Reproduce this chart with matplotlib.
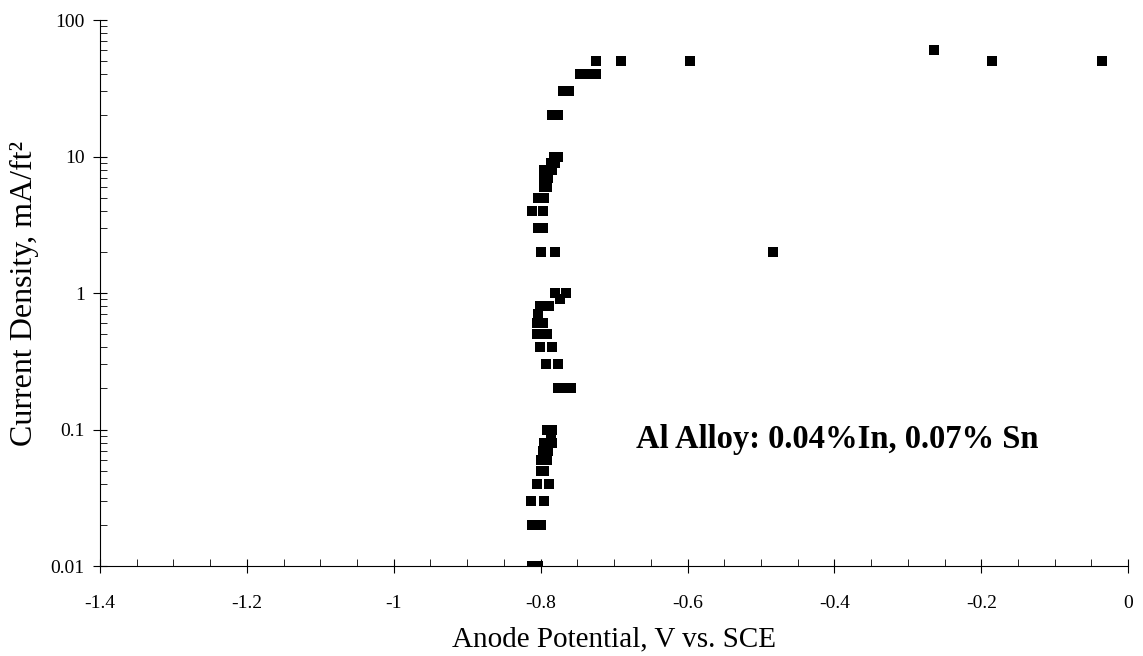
import numpy as np
import matplotlib
matplotlib.use('Agg')
import matplotlib.pyplot as plt
from matplotlib.ticker import MultipleLocator, LogLocator, NullFormatter

# Anode potential (V vs. SCE) and current density (mA/ft2)
potential = np.array([
    -0.812, -0.803,
    -0.812, -0.799,
    -0.813, -0.796,
    -0.805, -0.789,
    -0.800, -0.796,
    -0.799, -0.792,
    -0.797, -0.790,
    -0.796, -0.785,
    -0.786,
    -0.792, -0.784,
    -0.776, -0.767, -0.758,
    -0.793, -0.777,
    -0.801, -0.785,
    -0.805, -0.792,
    -0.805, -0.797,
    -0.804,
    -0.801, -0.788,
    -0.774,
    -0.780, -0.765,
    -0.799, -0.780, -0.484,
    -0.804, -0.797,
    -0.812, -0.797,
    -0.803, -0.796,
    -0.796, -0.792,
    -0.796, -0.790,
    -0.796, -0.784,
    -0.786, -0.780,
    -0.782, -0.776,
    -0.784, -0.777,
    -0.770, -0.761,
    -0.746, -0.733, -0.725,
    -0.725, -0.690, -0.596, -0.265, -0.185, -0.035,
])
current = np.array([
    0.01, 0.01,
    0.02, 0.02,
    0.03, 0.03,
    0.04, 0.04,
    0.05, 0.05,
    0.06, 0.06,
    0.07, 0.07,
    0.08, 0.08,
    0.09,
    0.1, 0.1,
    0.2, 0.2, 0.2,
    0.3, 0.3,
    0.4, 0.4,
    0.5, 0.5,
    0.6, 0.6,
    0.7,
    0.8, 0.8,
    0.9,
    1, 1,
    2, 2, 2,
    3, 3,
    4, 4,
    5, 5,
    6, 6,
    7, 7,
    8, 8,
    9, 9,
    10, 10,
    20, 20,
    30, 30,
    40, 40, 40,
    50, 50, 50, 60, 50, 50,
])

x_ticks = [-1.4, -1.2, -1.0, -0.8, -0.6, -0.4, -0.2, 0.0]
x_tick_labels = ['-1.4', '-1.2', '-1', '-0.8', '-0.6', '-0.4', '-0.2', '0']
y_ticks = [0.01, 0.1, 1, 10, 100]
y_tick_labels = ['0.01', '0.1', '1', '10', '100']

plt.rcParams['font.family'] = ['Liberation Serif', 'DejaVu Serif']

fig = plt.figure(figsize=(11.43, 6.56), dpi=100)
ax = fig.add_axes([0.0875, 0.137, 0.8995, 0.8325])

ax.plot(potential, current, 's', color='black', markersize=7, markeredgewidth=0)

ax.set_yscale('log')
ax.set_xlim(-1.4, 0)
ax.set_ylim(0.01, 100)

ax.set_xticks(x_ticks)
ax.set_xticklabels(x_tick_labels)
ax.xaxis.set_minor_locator(MultipleLocator(0.05))
ax.set_yticks(y_ticks)
ax.set_yticklabels(y_tick_labels)
ax.yaxis.set_minor_locator(LogLocator(base=10, subs=np.arange(2, 10)))
ax.yaxis.set_minor_formatter(NullFormatter())

ax.tick_params(axis='both', which='major', direction='inout', length=10, width=0.8,
               labelsize=14, colors='black')
ax.tick_params(axis='x', which='major', pad=16)
ax.tick_params(axis='y', which='major', pad=6)
ax.tick_params(axis='both', which='minor', direction='in', length=5, width=0.6)

for side in ['top', 'right']:
    ax.spines[side].set_visible(False)
for side in ['left', 'bottom']:
    ax.spines[side].set_linewidth(0.8)

ax.set_xlabel('Anode Potential, V vs. SCE', fontsize=21, labelpad=10)
ax.set_ylabel('Current Density, mA/ft²', fontsize=23, labelpad=8)

ax.text(-0.67, 0.085, 'Al Alloy: 0.04%In, 0.07% Sn', fontsize=23.5, fontweight='bold',
        va='center', ha='left')

fig.savefig('out.png', dpi=100)
